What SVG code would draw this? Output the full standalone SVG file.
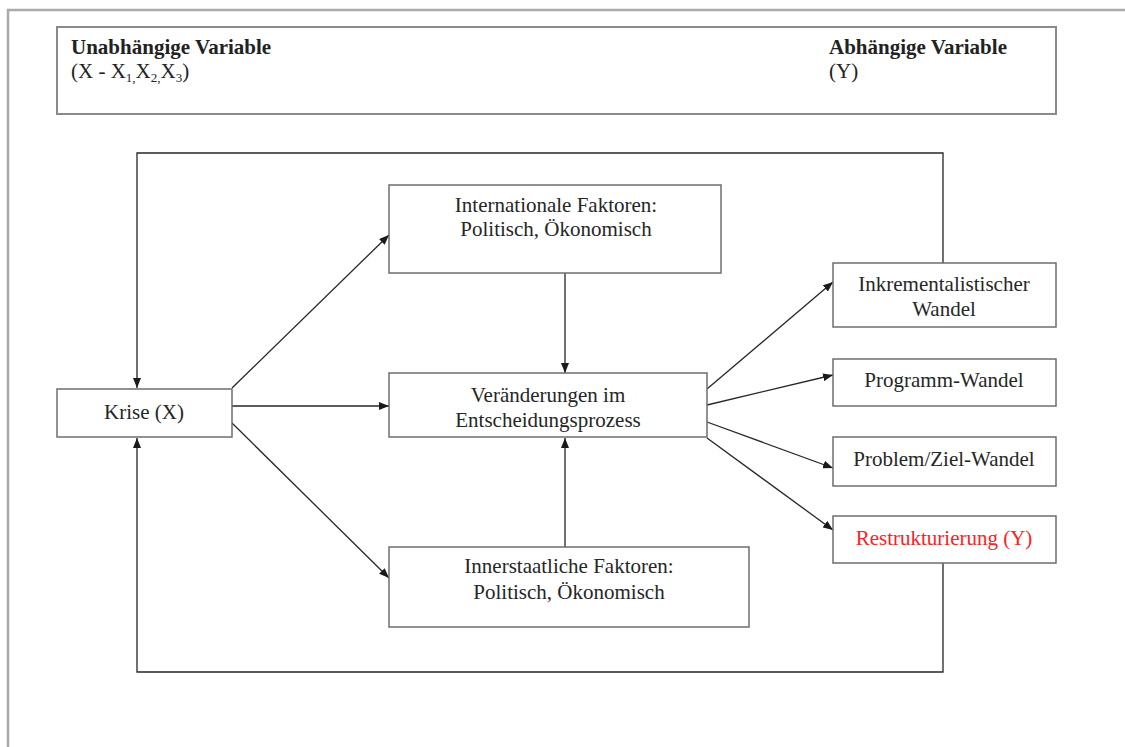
<svg xmlns="http://www.w3.org/2000/svg" width="1125" height="747" viewBox="0 0 1125 747">
<style>
.box{fill:#fff;stroke:#6e6e6e;stroke-width:1.5}
.t{font-family:"Liberation Serif","Times New Roman",serif;font-size:21px;fill:#262626;text-anchor:middle}
.h{font-family:"Liberation Serif","Times New Roman",serif;font-size:21px;fill:#222}
.hb{font-weight:bold}
.ln{fill:none;stroke:#262626;stroke-width:1.3}
</style>
<defs>
<marker id="ah" viewBox="0 0 10 8" refX="10" refY="4" markerWidth="10" markerHeight="8" markerUnits="userSpaceOnUse" orient="auto">
<path d="M0,0 L10,4 L0,8 Z" fill="#1a1a1a"/>
</marker>
</defs>
<rect width="1125" height="747" fill="#fff"/>
<g id="frame">
<path d="M8,747 V10 H1125" fill="none" stroke="#aaaaaa" stroke-width="2.5"/>
</g>
<g id="header">
<rect x="57" y="27" width="999" height="87" fill="#fff" stroke="#8a8a8a" stroke-width="2"/>
<text class="h hb" x="71" y="54">Unabhängige Variable</text>
<text class="h" x="71" y="78" fill="#444">(X - X<tspan font-size="13" dy="4">1,</tspan><tspan dy="-4">X</tspan><tspan font-size="13" dy="4">2,</tspan><tspan dy="-4">X</tspan><tspan font-size="13" dy="4">3</tspan><tspan dy="-4">)</tspan></text>
<text class="h hb" x="829" y="54">Abhängige Variable</text>
<text class="h" x="829" y="78" fill="#444">(Y)</text>
</g>
<g id="connectors">
<path class="ln" d="M943,263 V153 H137 V388" marker-end="url(#ah)"/>
<path class="ln" d="M943,563 V672 H137 V438" marker-end="url(#ah)"/>
<path class="ln" d="M232,388 L389,235" marker-end="url(#ah)"/>
<path class="ln" d="M232,406 L389,406" marker-end="url(#ah)"/>
<path class="ln" d="M232,423 L389,578" marker-end="url(#ah)"/>
<path class="ln" d="M565,273 V373" marker-end="url(#ah)"/>
<path class="ln" d="M565,547 V438" marker-end="url(#ah)"/>
<path class="ln" d="M707,389 L833,282" marker-end="url(#ah)"/>
<path class="ln" d="M707,405 L833,375" marker-end="url(#ah)"/>
<path class="ln" d="M707,422 L833,468" marker-end="url(#ah)"/>
<path class="ln" d="M707,438 L833,530" marker-end="url(#ah)"/>
</g>
<g id="krise">
<rect class="box" x="57" y="389" width="175" height="48"/>
<text class="t" x="144" y="419">Krise (X)</text>
</g>
<g id="international">
<rect class="box" x="389" y="185" width="332" height="88"/>
<text class="t" x="556" y="212">Internationale Faktoren:</text>
<text class="t" x="556" y="236">Politisch, Ökonomisch</text>
</g>
<g id="veraenderungen">
<rect class="box" x="389" y="373" width="318" height="64"/>
<text class="t" x="548" y="402">Veränderungen im</text>
<text class="t" x="548" y="427">Entscheidungsprozess</text>
</g>
<g id="innerstaatlich">
<rect class="box" x="389" y="547" width="360" height="80"/>
<text class="t" x="569" y="573">Innerstaatliche Faktoren:</text>
<text class="t" x="569" y="599">Politisch, Ökonomisch</text>
</g>
<g id="inkrementalistisch">
<rect class="box" x="833" y="263" width="223" height="64"/>
<text class="t" x="944" y="291">Inkrementalistischer</text>
<text class="t" x="944" y="316">Wandel</text>
</g>
<g id="programm">
<rect class="box" x="833" y="359" width="223" height="47"/>
<text class="t" x="944" y="387">Programm-Wandel</text>
</g>
<g id="problem">
<rect class="box" x="833" y="437" width="223" height="49"/>
<text class="t" x="944" y="466">Problem/Ziel-Wandel</text>
</g>
<g id="restrukturierung">
<rect class="box" x="833" y="516" width="223" height="47"/>
<text class="t" x="944" y="545" style="fill:#ff2020">Restrukturierung (Y)</text>
</g>
</svg>
